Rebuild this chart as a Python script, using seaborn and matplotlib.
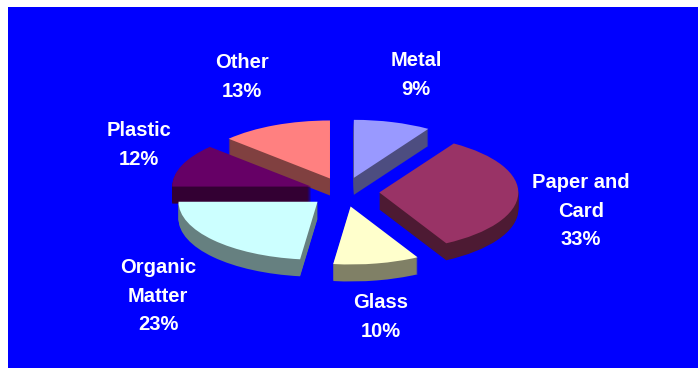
import matplotlib.pyplot as plt
from matplotlib.patches import Rectangle
from matplotlib.colors import to_rgb
import seaborn as sns

# waste composition data
materials = ['Metal', 'Paper and\nCard', 'Glass', 'Organic\nMatter', 'Plastic', 'Other']
shares = [9, 33, 10, 23, 12, 13]
top_colors = ['#9999FF', '#993366', '#FFFFCC', '#CCFFFF', '#660066', '#FF8080']

sns.set_theme(style='white')
plt.rcParams['font.family'] = ['Liberation Sans', 'DejaVu Sans']

# layout (pixels)
W, H = 698, 368
cx, cy = 344, 192      # pie centre, measured from the top left
rx, ry = 139, 58       # ellipse radii of the tilted pie
depth = 17             # thickness of the 3d slab
label_pos = [(416, 75), (581, 211), (381, 317), (158, 296), (139, 145), (242, 77)]
# back-to-front painting order of the slices
draw_rank = [1, 3, 5, 4, 2, 0]

fig = plt.figure(figsize=(W / 100, H / 100), dpi=100)
fig.patch.set_facecolor('white')
ax = fig.add_axes([0, 0, 1, 1])

side_colors = [tuple(0.5 * c for c in to_rgb(col)) for col in top_colors]
explode = [0.254] * len(shares)

# stack of shifted pies gives the extruded look, the last one is the top face
for k in range(depth, -1, -1):
    colors = side_colors if k > 0 else top_colors
    wedges, _ = ax.pie(shares, colors=colors, explode=explode, startangle=90,
                       counterclock=False, center=(0, -k / ry),
                       wedgeprops=dict(linewidth=0))
    for i, w in enumerate(wedges):
        w.set_zorder(2 + draw_rank[i] * 50 + (depth - k))

ax.set_aspect('auto')
ax.set_xlim(-cx / rx, (W - cx) / rx)
ax.set_ylim(-(H - cy) / ry, cy / ry)
ax.axis('off')

# blue chart area
ax.add_patch(Rectangle((8 / W, 0), (W - 8) / W, (H - 7) / H, transform=ax.transAxes,
                       facecolor='#0000FF', edgecolor='none', zorder=0, clip_on=False))

for name, share, (px, py) in zip(materials, shares, label_pos):
    ax.text(px / W, 1 - py / H, f'{name}\n{share}%', transform=ax.transAxes,
            ha='center', va='center', color='white', fontsize=14.5,
            fontweight='bold', linespacing=1.65, zorder=500)

fig.savefig('out.png', dpi=100)
